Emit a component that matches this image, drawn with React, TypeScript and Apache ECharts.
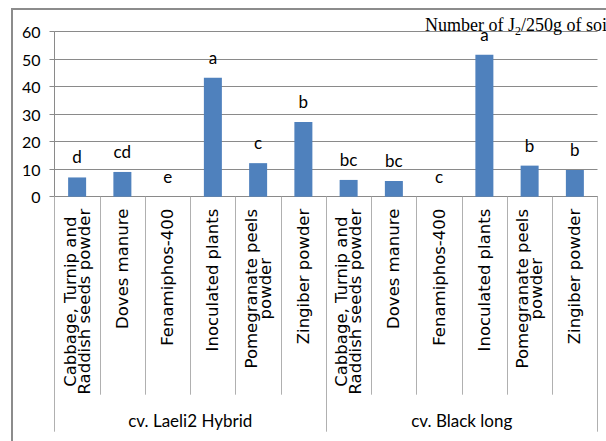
import React, { useEffect, useRef } from "react";
import * as echarts from "echarts";

const categories = [
  "Cabbage, Turnip and\nRaddish seeds powder",
  "Doves manure",
  "Fenamiphos-400",
  "Inoculated plants",
  "Pomegranate peels\npowder",
  "Zingiber powder",
  "Cabbage, Turnip and\nRaddish seeds powder",
  "Doves manure",
  "Fenamiphos-400",
  "Inoculated plants",
  "Pomegranate peels\npowder",
  "Zingiber powder",
];
const groups = ["cv. Laeli2 Hybrid", "cv. Black long"];
const values = [7, 9, 0, 43.3, 12.2, 27.2, 6.1, 5.7, 0, 51.6, 11.3, 9.7];
const letters = ["d", "cd", "e", "a", "c", "b", "bc", "bc", "c", "a", "b", "b"];
const yTicks = { min: 0, max: 60, interval: 10 };

const CAT_FONT = "DejaVu Sans";
const CAT_SIZE = 16.5;
const CAT_LH = 14;

function measure(text: string): number {
  const c = document.createElement("canvas").getContext("2d");
  if (!c) return text.length * 8;
  c.font = `${CAT_SIZE}px "${CAT_FONT}"`;
  return c.measureText(text).width;
}

export default function App() {
  const ref = useRef<HTMLDivElement>(null);
  useEffect(() => {
    if (!ref.current) return;
    const chart = echarts.init(ref.current, null, { renderer: "svg" });
    const gray = "#8a8a8a";
    const keyFor = (v: string) => {
      const lines = v.split("\n");
      return "c" + Math.ceil(Math.max(...lines.map(measure)));
    };
    const catFormatter = (v: string) => {
      const lines = v.split("\n");
      if (lines.length === 1) return v;
      const k = keyFor(v);
      return lines.map((l) => `{${k}|${l}}`).join("\n");
    };
    const rich: Record<string, any> = {};
    categories.forEach((v) => {
      const lines = v.split("\n");
      if (lines.length > 1) {
        const k = keyFor(v);
        rich[k] = {
          width: Number(k.slice(1)),
          align: "center",
          fontFamily: CAT_FONT,
          fontSize: CAT_SIZE,
          lineHeight: CAT_LH,
          color: "#000",
        };
      }
    });
    chart.setOption({
      animation: false,
      title: {
        text: "{t|Number of J}{s|2}{t|/250g of soil}",
        left: 425,
        top: 13,
        padding: 0,
        textStyle: {
          fontWeight: "normal",
          rich: {
            t: { fontFamily: "Liberation Serif", fontSize: 18, fontWeight: "normal", color: "#000", lineHeight: 24 },
            s: { fontFamily: "Liberation Serif", fontSize: 12, fontWeight: "normal", color: "#000", lineHeight: 24, verticalAlign: "bottom" },
          },
        },
      },
      graphic: [
        {
          type: "rect",
          z: -10,
          shape: { x: 12, y: 9, width: 800, height: 600 },
          style: { fill: "none", stroke: "#8c8c8c", lineWidth: 2 },
        },
      ],
      grid: { left: 54.5, right: 8.5, top: 31.7, bottom: 244.3 },
      xAxis: [
        {
          type: "category",
          data: categories,
          position: "bottom",
          axisLine: { show: true, lineStyle: { color: gray, width: 1 } },
          axisTick: { show: true, interval: 0, length: 198, lineStyle: { color: "#b0b0b0" } },
          axisLabel: {
            interval: 0,
            rotate: 90,
            margin: 12,
            fontFamily: CAT_FONT,
            fontSize: CAT_SIZE,
            lineHeight: CAT_LH,
            color: "#000",
            formatter: catFormatter,
            rich,
          },
        },
        {
          type: "category",
          data: groups,
          position: "bottom",
          axisLine: { show: false },
          axisTick: { show: true, interval: 0, length: 235, lineStyle: { color: "#b0b0b0" } },
          axisLabel: {
            interval: 0,
            margin: 215,
            fontFamily: "Lato",
            fontSize: 17,
            color: "#000",
          },
          splitLine: { show: false },
        },
      ],
      yAxis: {
        type: "value",
        min: yTicks.min,
        max: yTicks.max,
        interval: yTicks.interval,
        axisLine: { show: true, lineStyle: { color: gray } },
        axisTick: { show: true, length: 5, lineStyle: { color: gray } },
        splitLine: { show: true, lineStyle: { color: gray, width: 1 } },
        axisLabel: { margin: 14, fontFamily: "Lato", fontSize: 16, color: "#000" },
      },
      series: [
        {
          type: "bar",
          xAxisIndex: 0,
          data: values,
          barWidth: 18,
          itemStyle: { color: "#4f81bd" },
          label: {
            show: true,
            position: "top",
            distance: 12,
            fontFamily: "Lato",
            fontSize: 17,
            color: "#000",
            formatter: (p: any) => letters[p.dataIndex],
          },
        },
      ],
    });
    return () => chart.dispose();
  }, []);
  return (
    <div
      ref={ref}
      style={{ position: "fixed", left: 0, top: 0, width: 606, height: 441, background: "#fff" }}
    />
  );
}
